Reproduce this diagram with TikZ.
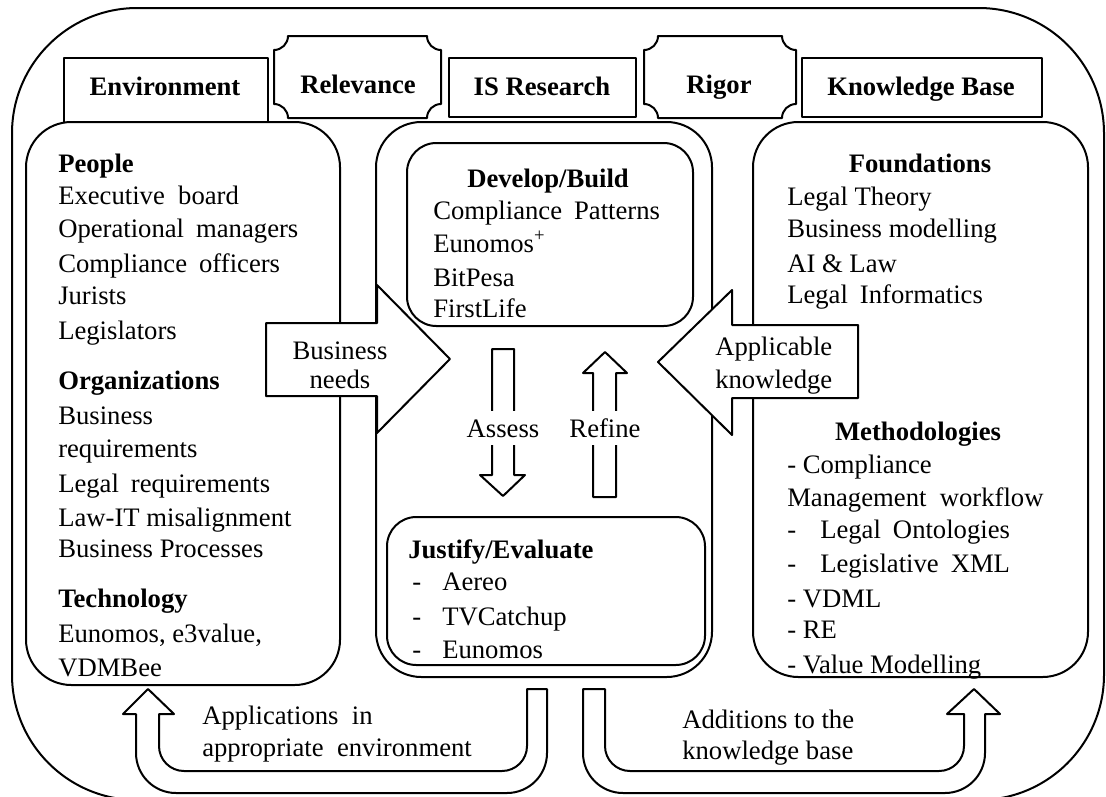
\documentclass[tikz,border=0pt]{standalone}
\usepackage{fontspec}
\setmainfont{Liberation Serif}
\begin{document}
% concave-cornered plaque: #1,#2 = top-left, #3,#4 = bottom-right
\newcommand{\plaqueshape}[4]{%
  \draw[line width=1.5pt,fill=white] ({#1+14},#2) -- ({#3-14},#2)
    .. controls ({#3-14},{#2+7.7}) and ({#3-7.7},{#2+14}) .. (#3,{#2+14})
    -- (#3,{#4-14})
    .. controls ({#3-7.7},{#4-14}) and ({#3-14},{#4-7.7}) .. ({#3-14},#4)
    -- ({#1+14},#4)
    .. controls ({#1+14},{#4-7.7}) and ({#1+7.7},{#4-14}) .. (#1,{#4-14})
    -- (#1,{#2+14})
    .. controls ({#1+7.7},{#2+14}) and ({#1+14},{#2+7.7}) .. ({#1+14},#2)
    -- cycle;}
\begin{tikzpicture}[x=0.75pt,y=-0.75pt,line join=round,
  frame/.style={line width=1.5pt},
  bigbox/.style={line width=1.5pt,rounded corners=34pt},
  innerbox/.style={line width=1.5pt,rounded corners=22pt},
  blockarrow/.style={line width=1.5pt,fill=white},
  txt/.style={font=\fontsize{20}{24}\selectfont,inner sep=0pt,anchor=base west},
  ctxt/.style={font=\fontsize{20}{24}\selectfont,inner sep=0pt,anchor=base},
  head/.style={font=\fontsize{20}{24}\selectfont\bfseries,inner sep=0pt,anchor=base},
  lbl/.style={font=\fontsize{20}{24}\selectfont,fill=white,inner xsep=2pt,
    inner ysep=6pt,text height=14pt,text depth=0pt}]
\useasboundingbox (0,0) rectangle (1106,796);

% outer frame
\draw[frame,rounded corners=94pt] (12,8) rectangle (1104,800);

% header boxes
\draw[frame] (64,122) -- (64,58) -- (268,58) -- (268,122);
\draw[frame] (449,58) rectangle (636,117);
\draw[frame] (802,58) rectangle (1042,117);
\plaqueshape{274}{36}{441}{118}
\plaqueshape{644}{36}{796}{118}
\node[head] (hEnv) at (165,95) {Environment};
\node[head] (hRel) at (358,93) {Relevance};
\node[head] (hIS)  at (542,95) {IS Research};
\node[head] (hRig) at (719,93) {Rigor};
\node[head] (hKB)  at (921,95) {Knowledge Base};

% three main columns
\draw[bigbox] (26,122) rectangle (340,685);
\draw[bigbox] (376,122) rectangle (712,677);
\draw[bigbox] (753,122) rectangle (1088,677);

% inner boxes of the research column
\draw[innerbox] (407,143) rectangle (693,326);
\draw[innerbox] (387,517) rectangle (705,665);

% side block arrows
\draw[blockarrow] (266,323) -- (377,323) -- (377,285) -- (450,359)
  -- (377,433) -- (377,396) -- (266,396) -- cycle;
\draw[blockarrow] (858,325) -- (732,325) -- (732,290) -- (658,362)
  -- (732,435) -- (732,398) -- (858,398) -- cycle;
\node[ctxt] (bn1) at (340,359) {Business};
\node[ctxt] (bn2) at (340,388) {needs};
\node[txt] (ak1) at (715,355) {Applicable};
\node[txt] (ak2) at (715,388) {knowledge};

% assess / refine arrows
\draw[blockarrow] (492,349) -- (514,349) -- (514,475) -- (525,475)
  -- (503,496) -- (480,475) -- (492,475) -- cycle;
\draw[blockarrow] (605,352) -- (627,373) -- (616,373) -- (616,497)
  -- (593,497) -- (593,373) -- (583,373) -- cycle;
\node[lbl] (assess) at (503,428) {Assess};
\node[lbl] (refine) at (605,428) {Refine};

% environment column
\node[txt,font=\fontsize{20}{24}\selectfont\bfseries] (pe) at (58,172) {People};
\node[txt] (pe1) at (58,204) {Executive\hspace{5pt} board};
\node[txt] (pe2) at (58,237) {Operational\hspace{4pt} managers};
\node[txt] (pe3) at (58,272) {Compliance\hspace{4pt} officers};
\node[txt] (pe4) at (58,304) {Jurists};
\node[txt] (pe5) at (58,339) {Legislators};
\node[txt,font=\fontsize{20}{24}\selectfont\bfseries] (or) at (58,389) {Organizations};
\node[txt] (or1) at (58,424) {Business};
\node[txt] (or2) at (58,457) {requirements};
\node[txt] (or3) at (58,492) {Legal\hspace{4pt} requirements};
\node[txt] (or4) at (58,526) {Law-IT misalignment};
\node[txt] (or5) at (58,557) {Business Processes};
\node[txt,font=\fontsize{20}{24}\selectfont\bfseries] (te) at (58,607) {Technology};
\node[txt] (te1) at (58,642) {Eunomos, e3value,};
\node[txt] (te2) at (58,676) {VDMBee};

% research column
\node[head] (db) at (548,187) {Develop/Build};
\node[txt] (db1) at (433,219) {Compliance\hspace{4pt} Patterns};
\node[txt] (db2) at (433,252) {Eunomos\textsuperscript{+}};
\node[txt] (db3) at (433,286) {BitPesa};
\node[txt] (db4) at (433,317) {FirstLife};
\node[txt,font=\fontsize{20}{24}\selectfont\bfseries] (je) at (408,558) {Justify/Evaluate};
\node[txt] (jd1) at (412,590) {-};
\node[txt] (je1) at (442,590) {Aereo};
\node[txt] (jd2) at (412,625) {-};
\node[txt] (je2) at (442,625) {TVCatchup};
\node[txt] (jd3) at (412,658) {-};
\node[txt] (je3) at (442,658) {Eunomos};

% knowledge base column
\node[head] (fo) at (920,172) {Foundations};
\node[txt] (fo1) at (787,205) {Legal Theory};
\node[txt] (fo2) at (787,237) {Business modelling};
\node[txt] (fo3) at (787,272) {AI \& Law};
\node[txt] (fo4) at (787,303) {Legal\hspace{4pt} Informatics};
\node[head] (me) at (918,440) {Methodologies};
\node[txt] (me1) at (787,473) {- Compliance};
\node[txt] (me2) at (787,506) {Management\hspace{5pt} workflow};
\node[txt] (md3) at (787,538) {-};
\node[txt] (me3) at (820,538) {Legal\hspace{4pt} Ontologies};
\node[txt] (md4) at (787,572) {-};
\node[txt] (me4) at (820,572) {Legislative\hspace{4pt} XML};
\node[txt] (me5) at (787,607) {- VDML};
\node[txt] (me6) at (787,638) {- RE};
\node[txt] (me7) at (787,673) {- Value Modelling};

% bottom U-turn arrows
\draw[blockarrow] (527,689) -- (547,689) -- (547,753)
  arc[start angle=0,end angle=90,radius=40] -- (176,793)
  arc[start angle=90,end angle=180,radius=40] -- (136,714) -- (123,714)
  -- (148,689) -- (174,714) -- (159,714) -- (159,746)
  arc[start angle=180,end angle=90,radius=25] -- (502,771)
  arc[start angle=90,end angle=0,radius=25] -- cycle;
\draw[blockarrow] (583,689) -- (605,689) -- (605,746)
  arc[start angle=180,end angle=90,radius=25] -- (939,771)
  arc[start angle=90,end angle=0,radius=25] -- (964,714) -- (947,714)
  -- (974,689) -- (1000,714) -- (985,714) -- (985,753)
  arc[start angle=0,end angle=90,radius=40] -- (623,793)
  arc[start angle=90,end angle=180,radius=40] -- cycle;
\node[txt] (ap1) at (202,724) {Applications\hspace{5pt} in};
\node[txt] (ap2) at (202,756) {appropriate\hspace{5pt} environment};
\node[txt] (ad1) at (682,728) {Additions to the};
\node[txt] (ad2) at (682,759) {knowledge base};
\end{tikzpicture}
\end{document}
